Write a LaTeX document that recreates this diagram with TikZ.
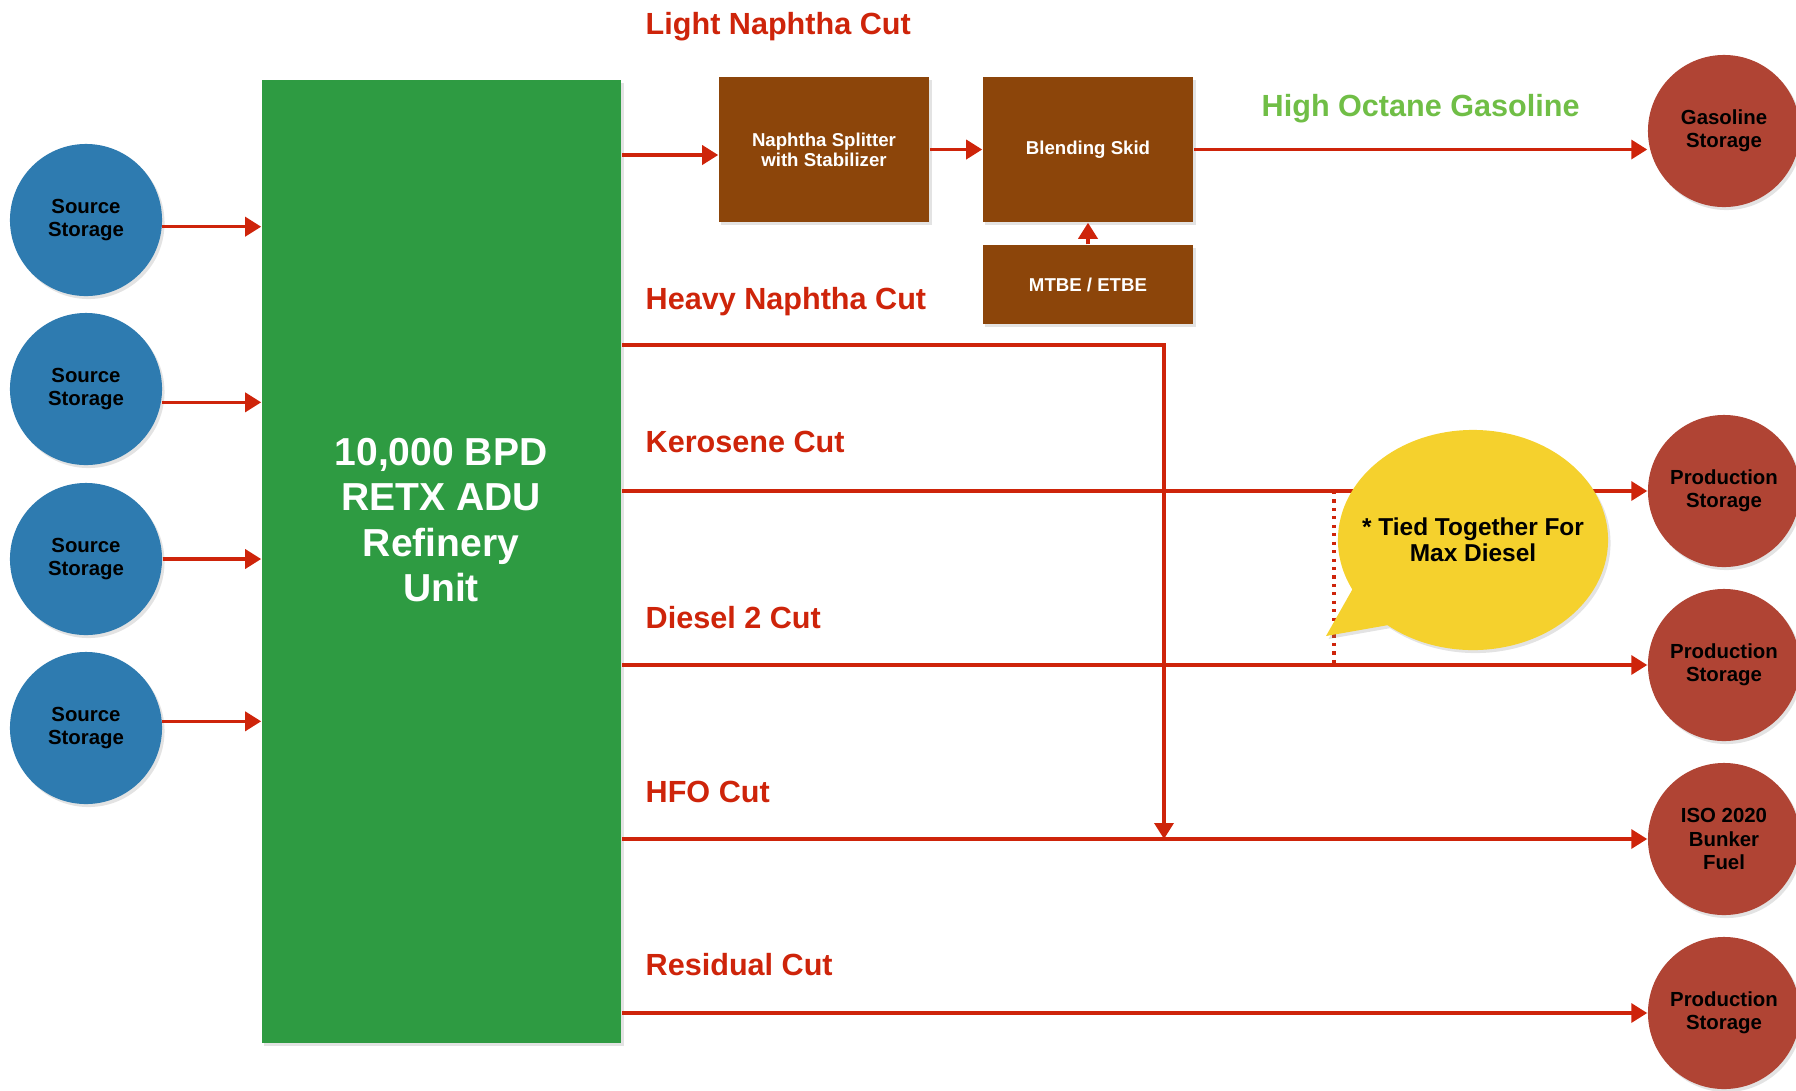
\documentclass[tikz,border=0pt]{standalone}
\usepackage{fontspec}
\setmainfont{Liberation Sans}
\usetikzlibrary{arrows.meta,shapes.callouts,shadows}

\definecolor{aduGreen}{RGB}{46,155,66}
\definecolor{unitBrown}{RGB}{140,69,10}
\definecolor{srcBlue}{RGB}{46,123,176}
\definecolor{prodRed}{RGB}{176,68,52}
\definecolor{flowRed}{RGB}{206,36,10}
\definecolor{noteYellow}{RGB}{245,209,45}
\definecolor{gasGreen}{RGB}{112,190,70}

\tikzset{
  cutflow/.style={draw=flowRed, line width=1pt, -{Triangle[length=0.16cm,width=0.19cm]}},
  tiedots/.style={draw=flowRed, line width=0.9pt, dash pattern=on 0.9pt off 1.5pt},
  softshadow/.style={drop shadow={opacity=0.22,shadow xshift=0.025cm,shadow yshift=-0.03cm}},
  srcnode/.style={circle, fill=srcBlue, minimum size=1.52cm, inner sep=0pt, align=center,
    font=\fontsize{5.8}{6.6}\selectfont\bfseries, softshadow},
  prodnode/.style={srcnode, fill=prodRed},
  unitbox/.style={rectangle, fill=unitBrown, text=white, minimum width=2.1cm, inner sep=0pt,
    align=center, font=\fontsize{5.3}{5.6}\selectfont\bfseries, softshadow},
  cutlabel/.style={anchor=base west, inner sep=0pt, text=flowRed, font=\fontsize{8.7}{10}\selectfont\bfseries},
}

\begin{document}
\begin{tikzpicture}[x=0.01cm,y=-0.01cm]
\useasboundingbox (0,0) rectangle (1796,1090);

% refinery unit
\node[fill=aduGreen, minimum width=3.59cm, minimum height=9.63cm, inner sep=0pt, softshadow] (adu) at (441.5,561.5) {};
\node[text=white, align=center, font=\fontsize{11.1}{12.9}\selectfont\bfseries] (adutext) at (441,520) {10,000 BPD\\RETX ADU\\Refinery\\Unit};

% source side
\node[srcnode] (src1) at (86,220) {Source\\Storage};
\node[srcnode] (src2) at (86,389) {Source\\Storage};
\node[srcnode] (src3) at (86,559) {Source\\Storage};
\node[srcnode] (src4) at (86,728) {Source\\Storage};

\draw[cutflow] (src1.-5) -- (src1.-5 -| adu.west);
\draw[cutflow] (src2.-10) -- (src2.-10 -| adu.west);
\draw[cutflow] (src3.east) -- (src3.east -| adu.west);
\draw[cutflow] (src4.5) -- (src4.5 -| adu.west);

% gasoline train
\node[unitbox, minimum height=1.45cm] (split) at (824,149.5) {Naphtha Splitter\\with Stabilizer};
\node[unitbox, minimum height=1.45cm] (blend) at (1088,149.5) {Blending Skid};
\node[unitbox, minimum height=0.79cm] (mtbe) at (1088,284.5) {MTBE / ETBE};

% product side
\node[prodnode] (gas) at (1724,131) {Gasoline\\Storage};
\node[prodnode] (kero) at (1724,491) {Production\\Storage};
\node[prodnode] (dsl) at (1724,665) {Production\\Storage};
\node[prodnode] (hfo) at (1724,839) {ISO 2020\\Bunker\\Fuel};
\node[prodnode] (resid) at (1724,1013) {Production\\Storage};

\coordinate (lnc) at ([yshift=-0.055cm]split.west);
\draw[cutflow] (lnc -| adu.east) -- (lnc);
\draw[cutflow] (split.east) -- (blend.west);
\draw[cutflow] (mtbe.north) -- (blend.south);
\draw[cutflow] (blend.east) -- (blend.east -| gas.west);

\coordinate (hnturn) at (1164,345);
\draw[cutflow] (adu.east |- hnturn) -| (hnturn |- hfo.west);

\draw[cutflow] (adu.east |- kero.west) -- (kero.west);
\draw[cutflow] (adu.east |- dsl.west) -- (dsl.west);
\draw[cutflow] (adu.east |- hfo.west) -- (hfo.west);
\draw[cutflow] (adu.east |- resid.west) -- (resid.west);

\coordinate (tiex) at (1334,0);
\draw[tiedots] (tiex |- kero.west) -- (tiex |- dsl.west);

% note
\node[ellipse callout, fill=noteYellow, minimum width=2.7cm, minimum height=2.2cm, inner sep=0pt,
  callout absolute pointer={(1326,636)}, callout pointer arc=24, softshadow] (note) at (1473,540) {};
\node[align=center, font=\fontsize{6.95}{7.5}\selectfont\bfseries] (notetext) at (note.center) {* Tied Together For\\Max Diesel};

% cut labels
\node[cutlabel] (lightlbl) at (645,34) {Light Naphtha Cut};
\node[cutlabel] (heavylbl) at (645,309) {Heavy Naphtha Cut};
\node[cutlabel] (kerolbl) at (645,452) {Kerosene Cut};
\node[cutlabel] (dsllbl) at (645,628) {Diesel 2 Cut};
\node[cutlabel] (hfolbl) at (645,802) {HFO Cut};
\node[cutlabel] (residlbl) at (645,975) {Residual Cut};
\node[cutlabel, text=gasGreen] (gaslbl) at (1261,116) {High Octane Gasoline};
\end{tikzpicture}
\end{document}
